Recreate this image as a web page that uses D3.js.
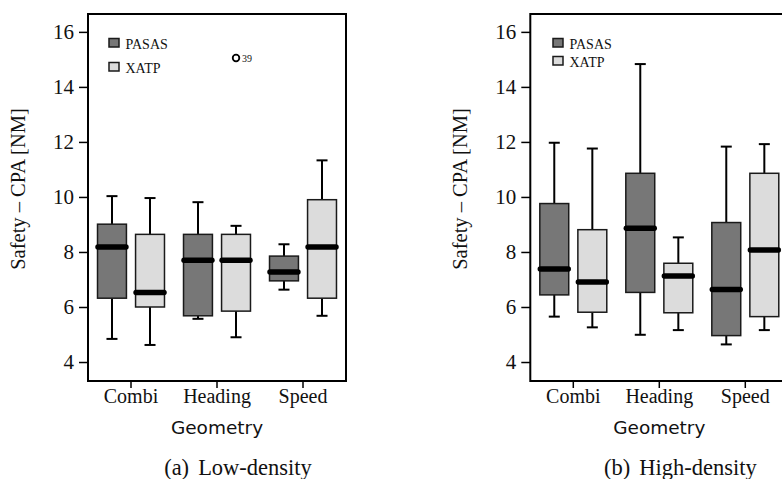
<!DOCTYPE html>
<html>
<head>
<meta charset="utf-8">
<script src="https://cdn.jsdelivr.net/npm/d3@7"></script>
<style>
  body { margin: 0; background: #fff; }
  svg { display: block; }
</style>
</head>
<body>
<script>
var geometries = ["Combi", "Heading", "Speed"];
var systems = ["PASAS", "XATP"];
var yTicks = [4, 6, 8, 10, 12, 14, 16];

// [lower whisker, Q1, median, Q3, upper whisker] per geometry
var lowPasas = [[4.84, 6.32, 8.18, 9.01, 10.03], [5.57, 5.68, 7.70, 8.64, 9.81], [6.63, 6.95, 7.27, 7.85, 8.28]];
var lowXatp = [[4.62, 6.00, 6.53, 8.64, 9.96], [4.90, 5.85, 7.70, 8.64, 8.95], [5.68, 6.32, 8.18, 9.90, 11.33]];
var highPasas = [[5.65, 6.44, 7.38, 9.76, 11.97], [4.99, 6.53, 8.86, 10.86, 14.83], [4.64, 4.96, 6.64, 9.07, 11.83]];
var highXatp = [[5.26, 5.81, 6.91, 8.81, 11.76], [5.16, 5.79, 7.13, 7.59, 8.53], [5.16, 5.65, 8.07, 10.86, 11.92]];

var lowOutliers = [{ geometry: "Heading", system: "XATP", value: 15.05, label: "39" }];
var highOutliers = [];

var W = 782, H = 479;
var frameTop = 14, frameBottom = 381, frameWidth = 258;
var serif = "'Liberation Serif', 'Times New Roman', serif";
var sans = "'DejaVu Sans', sans-serif";
var fills = { PASAS: "#777777", XATP: "#dcdcdc" };

var svg = d3.select("body").append("svg")
    .attr("width", W)
    .attr("height", H);

var y = d3.scaleLinear()
    .domain([3.31, 16.65])
    .range([frameBottom, frameTop]);

function drawPanel(opt) {
    var left = opt.left;
    var g = svg.append("g");

    var x = d3.scaleBand()
        .domain(geometries)
        .range([left, left + frameWidth]);
    var xs = d3.scaleBand()
        .domain(systems)
        .range([0, x.bandwidth()])
        .paddingInner(0.24)
        .paddingOuter(0.25);

    var stats = { PASAS: opt.pasas, XATP: opt.xatp };
    var boxes = [];
    geometries.forEach(function(geo, i) {
        systems.forEach(function(s) {
            var v = stats[s][i];
            boxes.push({ geo: geo, sys: s, lo: v[0], q1: v[1], med: v[2], q3: v[3], hi: v[4] });
        });
    });
    var bx = function(d) { return x(d.geo) + xs(d.sys); };
    var bw = xs.bandwidth();
    var cx = function(d) { return bx(d) + bw / 2; };

    // y axis
    var ya = g.append("g")
        .attr("transform", `translate(${left},0)`)
        .call(d3.axisLeft(y).tickValues(yTicks).tickSize(9).tickPadding(5));
    ya.select(".domain").remove();
    ya.selectAll("line").attr("stroke", "#000").attr("stroke-width", 1.5);
    ya.selectAll("text")
        .attr("fill", "#111")
        .style("font-family", serif)
        .style("font-size", "21px");

    // x axis
    var xa = g.append("g")
        .attr("transform", `translate(0,${frameBottom})`)
        .call(d3.axisBottom(x).tickSize(7).tickPadding(1));
    xa.select(".domain").remove();
    xa.selectAll("line").attr("stroke", "#000").attr("stroke-width", 1.5);
    xa.selectAll("text")
        .attr("fill", "#111")
        .style("font-family", serif)
        .style("font-size", "20px");

    // whiskers
    var wk = g.append("g").attr("stroke", "#000").attr("stroke-width", 2);
    wk.selectAll("line.up").data(boxes).enter().append("line")
        .attr("x1", cx).attr("x2", cx)
        .attr("y1", function(d) { return y(d.hi); })
        .attr("y2", function(d) { return y(d.q3); });
    wk.selectAll("line.dn").data(boxes).enter().append("line")
        .attr("x1", cx).attr("x2", cx)
        .attr("y1", function(d) { return y(d.q1); })
        .attr("y2", function(d) { return y(d.lo); });
    wk.selectAll("line.capHi").data(boxes).enter().append("line")
        .attr("x1", function(d) { return cx(d) - 5.5; })
        .attr("x2", function(d) { return cx(d) + 5.5; })
        .attr("y1", function(d) { return y(d.hi); })
        .attr("y2", function(d) { return y(d.hi); });
    wk.selectAll("line.capLo").data(boxes).enter().append("line")
        .attr("x1", function(d) { return cx(d) - 5.5; })
        .attr("x2", function(d) { return cx(d) + 5.5; })
        .attr("y1", function(d) { return y(d.lo); })
        .attr("y2", function(d) { return y(d.lo); });

    // boxes
    g.append("g").selectAll("rect").data(boxes).enter().append("rect")
        .attr("x", bx)
        .attr("width", bw)
        .attr("y", function(d) { return y(d.q3); })
        .attr("height", function(d) { return y(d.q1) - y(d.q3); })
        .attr("fill", function(d) { return fills[d.sys]; })
        .attr("stroke", "#1a1a1a")
        .attr("stroke-width", 1.5);

    // medians
    g.append("g").selectAll("line").data(boxes).enter().append("line")
        .attr("x1", function(d) { return bx(d) + 0.5; })
        .attr("x2", function(d) { return bx(d) + bw - 0.5; })
        .attr("y1", function(d) { return y(d.med); })
        .attr("y2", function(d) { return y(d.med); })
        .attr("stroke", "#000")
        .attr("stroke-width", 5.5)
        .attr("stroke-linecap", "round");

    // outliers
    var out = g.append("g").selectAll("g").data(opt.outliers).enter().append("g");
    out.append("circle")
        .attr("cx", function(d) { return x(d.geometry) + xs(d.system) + bw / 2; })
        .attr("cy", function(d) { return y(d.value); })
        .attr("r", 3.3)
        .attr("fill", "#fff")
        .attr("stroke", "#000")
        .attr("stroke-width", 1.8);
    out.append("text")
        .attr("x", function(d) { return x(d.geometry) + xs(d.system) + bw / 2 + 6; })
        .attr("y", function(d) { return y(d.value) + 4; })
        .style("font-family", serif)
        .style("font-size", "10px")
        .attr("fill", "#111")
        .text(function(d) { return d.label; });

    // frame
    g.append("rect")
        .attr("x", left)
        .attr("y", frameTop)
        .attr("width", frameWidth)
        .attr("height", frameBottom - frameTop)
        .attr("fill", "none")
        .attr("stroke", "#000")
        .attr("stroke-width", 2);

    // legend
    var lg = g.append("g").selectAll("g").data(systems).enter().append("g")
        .attr("transform", function(d, i) { return `translate(${opt.legendX},${38.5 + i * opt.legendGap})`; });
    lg.append("rect")
        .attr("width", 10)
        .attr("height", 8.5)
        .attr("fill", function(d) { return fills[d]; })
        .attr("stroke", "#1a1a1a")
        .attr("stroke-width", 1.5);
    lg.append("text")
        .attr("x", 16.5)
        .attr("y", 10.5)
        .style("font-family", serif)
        .style("font-size", "14px")
        .attr("fill", "#111")
        .text(function(d) { return d; });

    // axis titles
    g.append("text")
        .attr("transform", `translate(${left - 63},189) rotate(-90)`)
        .attr("text-anchor", "middle")
        .style("font-family", serif)
        .style("font-size", "20.5px")
        .attr("fill", "#111")
        .text("Safety \u2013 CPA [NM]");
    g.append("text")
        .attr("x", left + frameWidth / 2)
        .attr("y", 434)
        .attr("text-anchor", "middle")
        .style("font-family", sans)
        .style("font-size", "18.5px")
        .attr("fill", "#111")
        .text("Geometry");

    // sub-figure caption, with a wider gap after the label
    var cap = g.append("text")
        .attr("x", left + frameWidth / 2 + 21)
        .attr("y", 475)
        .attr("text-anchor", "middle")
        .style("font-family", serif)
        .style("font-size", "22.5px")
        .attr("fill", "#111");
    cap.append("tspan").text(opt.label);
    cap.append("tspan").attr("dx", 9).text(opt.caption);
}

drawPanel({ left: 88, pasas: lowPasas, xatp: lowXatp, outliers: lowOutliers,
    legendX: 109, legendGap: 24, label: "(a)", caption: "Low-density" });
drawPanel({ left: 530.3, pasas: highPasas, xatp: highXatp, outliers: highOutliers,
    legendX: 553, legendGap: 18, label: "(b)", caption: "High-density" });
</script>
</body>
</html>
